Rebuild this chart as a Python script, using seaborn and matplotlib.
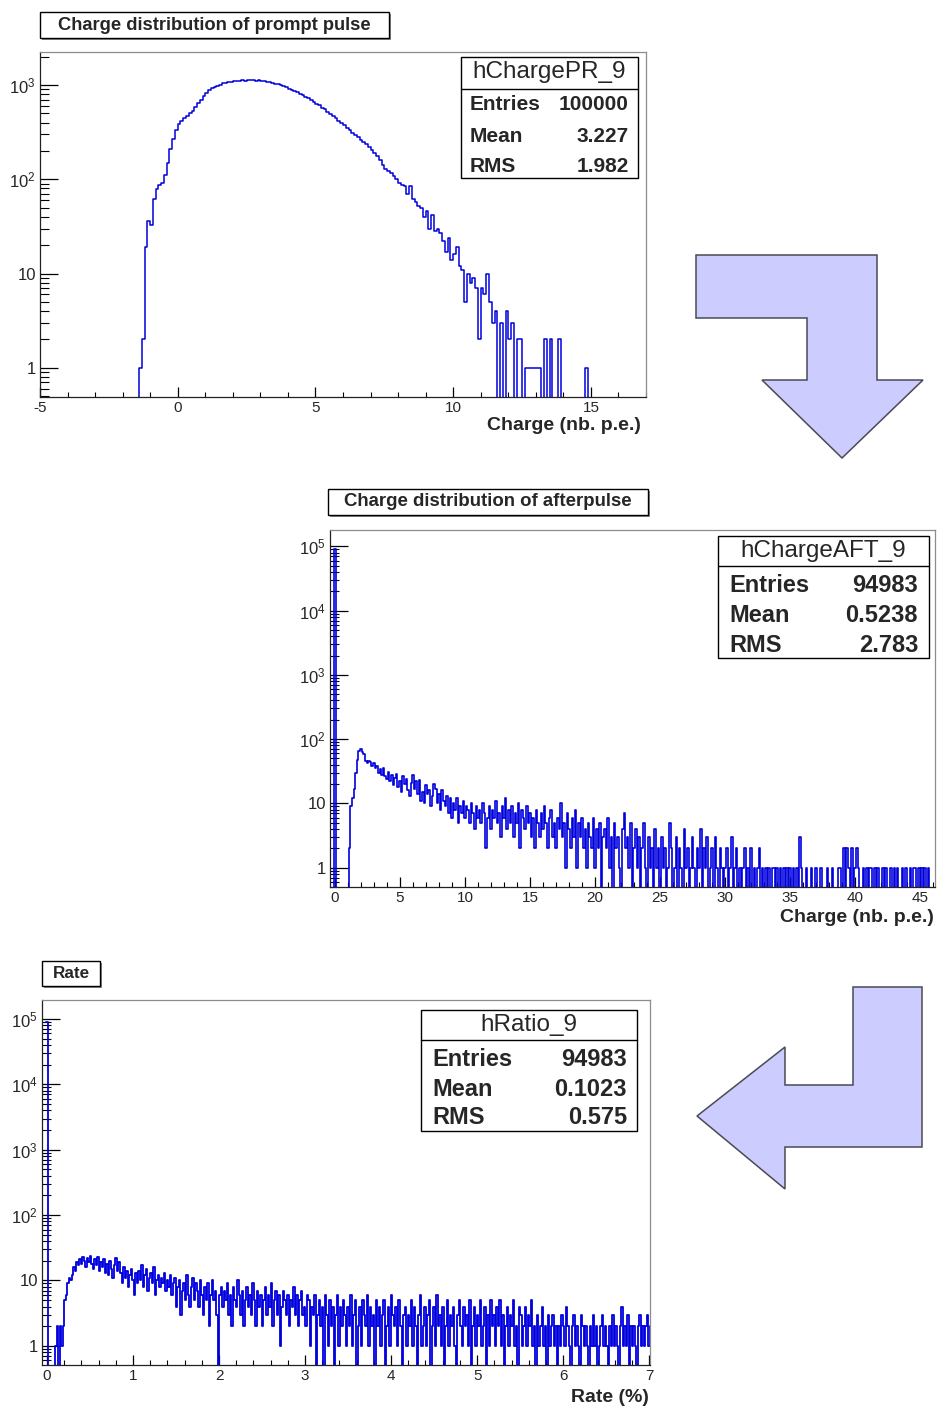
import numpy as np
import pandas as pd
import matplotlib
matplotlib.use("Agg")
import matplotlib.pyplot as plt
import matplotlib.ticker as mticker
from matplotlib.patches import Rectangle, Polygon
from matplotlib.lines import Line2D
import seaborn as sns

# ---- data ----

# hChargePR_9 : prompt pulse charge, 0.1 p.e. bins from -5 to 17
pr_start, pr_width = -5.0, 0.1
pr_counts = ([0] * 36 +
             [1, 2, 19, 36, 33, 62, 78, 86, 92, 110,
              150, 210, 265, 330, 385, 420, 445, 470, 500, 535,
              580, 640, 700, 765, 830, 885, 935, 960, 985, 1010,
              1040, 1055, 1065, 1085, 1095, 1090, 1110, 1120, 1105, 1130,
              1125, 1135, 1110, 1125, 1100, 1095, 1080, 1065, 1050, 1030,
              1015, 990, 965, 945, 915, 895, 860, 845, 805, 785,
              750, 725, 690, 665, 630, 610, 575, 555, 520, 495,
              470, 445, 420, 400, 375, 350, 335, 310, 295, 280,
              262, 250, 238, 222, 205, 192, 178, 160, 142, 130,
              122, 118, 108, 100, 92, 88, 84, 70, 85, 62,
              58, 52, 50, 40, 46, 30, 42, 28, 30, 27,
              22, 17, 24, 14, 16, 19, 12, 11, 5, 10,
              8, 9, 7, 2, 7, 6, 10, 5, 3, 4,
              0, 3, 0, 4, 2, 3, 0, 2, 2, 0,
              1, 1, 1, 1, 1, 1, 0, 2, 0, 2,
              0, 0, 2] +
             [0] * 9 + [1] + [0] * 21)

# hChargeAFT_9 : afterpulse charge, 0.125 p.e. bins (spike bin centred on 0)
aft_start, aft_width = -0.4375, 0.125
aft_counts = [0, 0, 0, 92000, 0, 0, 0, 0, 0, 0,
              0, 0, 2, 9, 12, 17, 30, 48, 66, 70,
              64, 58, 45, 42, 46, 44, 38, 42, 35, 38,
              30, 34, 28, 36, 27, 24, 31, 22, 28, 19,
              25, 29, 18, 22, 15, 27, 20, 24, 16, 13,
              21, 28, 17, 22, 14, 23, 11, 15, 10, 19,
              14, 16, 9, 13, 20, 17, 10, 14, 8, 16,
              11, 9, 13, 7, 12, 6, 10, 8, 12, 5,
              9, 7, 11, 6, 9, 8, 5, 10, 7, 4,
              9, 6, 8, 5, 10, 7, 2, 6, 9, 4,
              8, 6, 11, 5, 7, 3, 9, 6, 12, 4,
              8, 5, 9, 3, 7, 5, 10, 2, 8, 6,
              4, 9, 5, 7, 3, 6, 2, 8, 5, 3,
              7, 4, 9, 5, 2, 6, 8, 3, 5, 2,
              6, 4, 10, 3, 5, 1, 7, 4, 2, 6,
              3, 8, 1, 5, 3, 6, 2, 4, 1, 5,
              3, 2, 6, 1, 4, 2, 5, 0, 3, 4,
              2, 6, 1, 3, 0, 5, 2, 3, 1, 0,
              4, 7, 2, 3, 1, 5, 0, 2, 4, 1,
              3, 0, 2, 5, 1, 0, 3, 1, 2, 0,
              4, 1, 2, 0, 3, 1, 2, 0, 1, 5,
              2, 0, 1, 3, 0, 2, 1, 0, 4, 1,
              2, 0, 1, 3, 1, 0, 2, 1, 4, 0,
              2, 1, 3, 0, 1, 2, 0, 3, 1, 0,
              2, 1, 0, 1, 2, 0, 1, 3, 0, 1,
              2, 0, 1, 0, 1, 2, 0, 1, 0, 2,
              0, 1, 0, 1, 2, 0, 1, 0, 1, 0,
              1, 0, 1, 1, 0, 1, 0, 1, 0, 1,
              0, 1, 0, 1, 0, 1, 0, 1, 0, 3,
              1, 0, 0, 1, 0, 0, 1, 0, 0, 1,
              0, 0, 1, 0, 0, 0, 1, 0, 0, 1,
              0, 0, 0, 1, 1, 0, 2, 0, 2, 1,
              0, 2, 0, 1, 2, 1, 0, 0, 1, 0,
              1, 0, 1, 1, 0, 1, 0, 1, 0, 0,
              1, 0, 1, 0, 0, 1, 0, 1, 0, 1,
              0, 0, 1, 0, 1, 0, 0, 1, 0, 1,
              1, 0, 1, 0, 1, 0, 1, 0, 1, 0,
              0, 0, 0]

# hRatio_9 : afterpulse rate (%), 0.0175 bins (spike bin centred on 0)
rt_start, rt_width = -0.00875, 0.0175
rt_counts = [90000, 0, 0, 0, 0, 0, 1, 2, 0, 2, 1, 2, 5, 6, 9, 11, 10, 12, 16, 14,
             19, 17, 21, 18, 23, 20, 16, 22, 19, 24, 18, 15, 21, 17, 23, 14, 19, 16, 21, 13,
             18, 12, 20, 15, 11, 17, 22, 14, 19, 13, 9, 16, 11, 14, 8, 12, 15, 10, 6, 13,
             9, 14, 10, 17, 8, 12, 15, 7, 11, 13, 9, 16, 6, 10, 12, 8, 11, 9, 13, 7,
             10, 8, 12, 6, 9, 11, 4, 8, 10, 3, 7, 9, 5, 12, 6, 4, 8, 11, 5, 9,
             7, 4, 10, 6, 3, 8, 5, 9, 2, 6, 10, 5, 7, 3, 0, 6, 8, 4, 7, 5,
             9, 3, 6, 2, 8, 5, 4, 10, 6, 3, 7, 2, 5, 8, 4, 6, 3, 9, 5, 2,
             7, 4, 6, 2, 5, 8, 3, 6, 4, 9, 2, 5, 7, 3, 6, 1, 4, 7, 5, 3,
             6, 2, 5, 4, 8, 3, 6, 2, 5, 7, 3, 4, 2, 6, 5, 1, 4, 3, 6, 0,
             3, 5, 2, 4, 0, 6, 3, 1, 5, 2, 4, 0, 3, 6, 1, 4, 2, 5, 3, 1,
             4, 2, 6, 1, 3, 5, 0, 2, 4, 1, 5, 3, 2, 6, 1, 4, 2, 3, 0, 5,
             2, 4, 1, 3, 5, 0, 2, 4, 1, 6, 3, 2, 4, 1, 5, 2, 0, 3, 4, 1,
             3, 2, 5, 1, 4, 2, 0, 3, 6, 1, 2, 4, 1, 3, 5, 0, 2, 4, 1, 6,
             2, 3, 1, 4, 0, 2, 5, 1, 3, 2, 4, 1, 0, 3, 5, 2, 1, 4, 2, 3,
             1, 5, 0, 2, 4, 1, 3, 2, 5, 1, 2, 4, 0, 3, 1, 5, 2, 3, 1, 4,
             2, 5, 1, 3, 0, 2, 4, 1, 3, 2, 5, 1, 2, 0, 4, 3, 1, 2, 4, 1,
             3, 2, 5, 1, 2, 0, 3, 1, 2, 4, 1, 2, 0, 3, 1, 2, 3, 1, 2, 0,
             2, 1, 3, 2, 1, 4, 2, 1, 0, 2, 3, 1, 2, 1, 0, 3, 2, 1, 2, 1,
             0, 2, 1, 3, 1, 2, 0, 1, 2, 3, 1, 2, 1, 0, 2, 1, 3, 1, 2, 1,
             0, 2, 4, 1, 2, 1, 3, 0, 2, 1, 2, 1, 0, 2, 3, 1, 2, 1, 2, 3,
             1, 2]

pad_titles = ["Charge distribution of prompt pulse",
              "Charge distribution of afterpulse",
              "Rate"]
x_titles = ["Charge (nb. p.e.)", "Charge (nb. p.e.)", "Rate (%)"]
hist_names = ["hChargePR_9", "hChargeAFT_9", "hRatio_9"]
stat_labels = ["Entries", "Mean", "RMS"]
stat_values = [["100000", "3.227", "1.982"],
               ["94983", "0.5238", "2.783"],
               ["94983", "0.1023", "0.575"]]

# ---- style ----
sns.set_style("white")
plt.rcParams["font.family"] = ["Liberation Sans", "DejaVu Sans"]
plt.rcParams["mathtext.fontset"] = "custom"
plt.rcParams["mathtext.rm"] = "Liberation Sans"
plt.rcParams["mathtext.it"] = "Liberation Sans"

W, H = 938, 1409
fig = plt.figure(figsize=(W / 100, H / 100), dpi=100)


def px_rect(x0, y0, x1, y1):
    # pixel box (top-left origin) -> figure fraction rect
    return [x0 / W, 1 - y1 / H, (x1 - x0) / W, (y1 - y0) / H]


def fig_box(x0, y0, x1, y1, shadow=0, lw=1.0, z=3):
    if shadow:
        fig.patches.append(Rectangle((x0 / W + shadow / W, 1 - (y1 + shadow) / H),
                                     (x1 - x0) / W, (y1 - y0) / H,
                                     transform=fig.transFigure, fc="#8a8a8a",
                                     ec="none", zorder=z - 0.5))
    fig.patches.append(Rectangle((x0 / W, 1 - y1 / H), (x1 - x0) / W, (y1 - y0) / H,
                                 transform=fig.transFigure, fc="white",
                                 ec="black", lw=lw, zorder=z))


def fig_text(px, py, s, **kw):
    fig.text(px / W, 1 - py / H, s, va="center", zorder=5, **kw)


def draw_hist(ax, start, width, counts, lw=1.2):
    edges = [start + width * k for k in range(len(counts) + 1)]
    df = pd.DataFrame({"x": [0.5 * (a + b) for a, b in zip(edges[:-1], edges[1:])],
                       "n": [float(c) for c in counts]})
    sns.histplot(data=df, x="x", weights="n", bins=edges, element="step",
                 fill=False, color="#0000dd", linewidth=lw, ax=ax)
    ax.set_yscale("log")
    ax.set_xlabel("")
    ax.set_ylabel("")


def style_axes(ax, xlim, ylim, xmajor, xminor, ydecades):
    ax.set_xlim(*xlim)
    ax.set_ylim(*ylim)
    ax.xaxis.set_major_locator(mticker.MultipleLocator(xmajor))
    ax.xaxis.set_minor_locator(mticker.MultipleLocator(xminor))
    ax.xaxis.set_major_formatter(mticker.FormatStrFormatter("%g"))
    ticks = [10.0 ** d for d in ydecades]
    labels = ["1" if d == 0 else "10" if d == 1 else r"$10^{%d}$" % d for d in ydecades]
    ax.yaxis.set_major_locator(mticker.FixedLocator(ticks))
    ax.yaxis.set_major_formatter(mticker.FixedFormatter(labels))
    ax.yaxis.set_minor_locator(mticker.LogLocator(base=10, subs=np.arange(2, 10), numticks=30))
    ax.yaxis.set_minor_formatter(mticker.NullFormatter())
    ax.tick_params(axis="both", which="both", direction="in", color="black",
                   top=False, right=False, left=True, bottom=True)
    ax.tick_params(axis="y", which="major", length=13, width=0.9, labelsize=12, pad=3)
    ax.tick_params(axis="y", which="minor", length=6.5, width=0.8)
    ax.tick_params(axis="x", which="major", length=7, width=0.9, labelsize=11, pad=3)
    ax.tick_params(axis="x", which="minor", length=3.6, width=0.8)
    for side in ["top", "right"]:
        ax.spines[side].set_color("#8c8c8c")
        ax.spines[side].set_linewidth(0.9)
    for side in ["left", "bottom"]:
        ax.spines[side].set_color("#222222")
        ax.spines[side].set_linewidth(0.9)
    ax.grid(False)


# ---- panel 1 : prompt pulse ----
ax1 = fig.add_axes(px_rect(40, 52, 646, 397))
draw_hist(ax1, pr_start, pr_width, pr_counts, lw=1.1)
style_axes(ax1, (-5, 17), (0.49, 2240), 5, 1, [0, 1, 2, 3])

# ---- panel 2 : afterpulse ----
ax2 = fig.add_axes(px_rect(330, 530, 935, 887))
draw_hist(ax2, aft_start, aft_width, aft_counts)
style_axes(ax2, (-0.375, 46.125), (0.5, 1.8e5), 5, 1, [0, 1, 2, 3, 4, 5])

# ---- panel 3 : rate ----
ax3 = fig.add_axes(px_rect(42, 1000, 650, 1365))
draw_hist(ax3, rt_start, rt_width, rt_counts, lw=1.3)
style_axes(ax3, (-0.058, 7.01), (0.51, 1.95e5), 1, 0.2, [0, 1, 2, 3, 4, 5])

# ---- pad titles ----
fig_box(40, 12, 389, 38, shadow=2)
fig_text(214.5, 25, pad_titles[0], ha="center", fontsize=13.2, fontweight="bold")
fig_box(328, 489, 648, 515, shadow=2)
fig_text(488, 502, pad_titles[1], ha="center", fontsize=13.4, fontweight="bold")
fig_box(42, 961, 100, 986, shadow=2)
fig_text(71, 974, pad_titles[2], ha="center", fontsize=12.3, fontweight="bold")

# ---- axis titles ----
fig_text(641, 426, x_titles[0], ha="right", fontsize=14, fontweight="bold")
fig_text(934, 918, x_titles[1], ha="right", fontsize=14, fontweight="bold")
fig_text(649, 1398, x_titles[2], ha="right", fontsize=14, fontweight="bold")

# ---- stats boxes ----
stat_boxes = [
    dict(box=(461, 57, 638, 178), sep=89, title_y=72, rows=(105, 136, 166),
         lx=470, rx=629, tsize=17.5, rsize=15),
    dict(box=(718, 536, 929, 658), sep=566, title_y=551, rows=(585, 615, 645),
         lx=729, rx=918, tsize=17.5, rsize=17),
    dict(box=(421, 1010, 637, 1131), sep=1040, title_y=1025, rows=(1059, 1089, 1117),
         lx=432, rx=627, tsize=17.5, rsize=17),
]
for i, sb in enumerate(stat_boxes):
    x0, y0, x1, y1 = sb["box"]
    fig_box(x0, y0, x1, y1, lw=1.0, z=4)
    fig.add_artist(Line2D([x0 / W, x1 / W], [1 - sb["sep"] / H] * 2,
                          transform=fig.transFigure, color="black", lw=1.0, zorder=5))
    fig_text((x0 + x1) / 2, sb["title_y"], hist_names[i], ha="center", fontsize=sb["tsize"])
    for lab, val, ry in zip(stat_labels, stat_values[i], sb["rows"]):
        fig_text(sb["lx"], ry, lab, ha="left", fontsize=sb["rsize"], fontweight="bold")
        fig_text(sb["rx"], ry, val, ha="right", fontsize=sb["rsize"], fontweight="bold")

# ---- flow arrows ----
arrow_down = [(696, 255), (877, 255), (877, 380), (923, 380), (842, 458),
              (762, 380), (807, 380), (807, 318), (696, 318)]
arrow_left = [(853, 987), (922, 987), (922, 1147), (785, 1147), (785, 1189),
              (697, 1116), (785, 1047), (785, 1085), (853, 1085)]
for pts in (arrow_down, arrow_left):
    fig.patches.append(Polygon([(x / W, 1 - y / H) for x, y in pts], closed=True,
                               transform=fig.transFigure, fc="#ccccff",
                               ec="#4a4a55", lw=1.1, zorder=2))

fig.savefig("out.png", dpi=100, facecolor="white")
